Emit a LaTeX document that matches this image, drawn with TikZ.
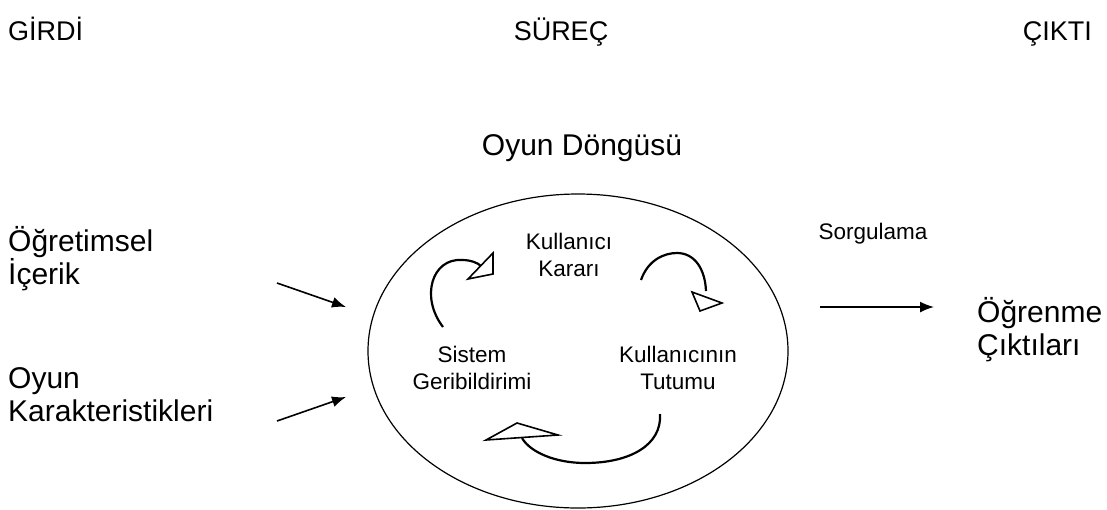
\documentclass[tikz,border=0pt]{standalone}
\usepackage{fontspec}
\setmainfont{Liberation Sans}
\usetikzlibrary{arrows.meta,positioning,shapes.geometric}
\tikzstyle{head}=[font=\fontsize{27}{30}\selectfont,inner sep=0pt]
\tikzstyle{bigtext}=[font=\fontsize{30}{33}\selectfont,inner sep=0pt,align=left]
\tikzstyle{smalltext}=[font=\fontsize{22.5}{27}\selectfont,inner sep=0pt,align=center]

\begin{document}
\begin{tikzpicture}[x=1pt,y=-1pt,
feed/.style={-{Latex[length=14pt,width=11pt]},line width=1.6pt},
turn/.style={line width=2.2pt},
turnhead/.style={draw,line width=1.6pt,fill=white,line join=miter}]
\useasboundingbox (0,0) rectangle (1107,509);
% headings
\node[head,anchor=base west] (girdi) at (8,40) {GİRDİ};
\node[head,anchor=base] (surec) at (561,40) {SÜREÇ};
\node[head,anchor=base east] (cikti) at (1092,40) {ÇIKTI};
\node[bigtext] (dongu) at (582,148) {Oyun Döngüsü};
% inputs
\node[bigtext,anchor=west] (icerik) at (8,259) {Öğretimsel\\İçerik};
\node[bigtext,anchor=west] (karakter) at (8,395) {Oyun\\Karakteristikleri};
\coordinate (in1) at (277,283);
\coordinate (in1end) at (346,307);
\coordinate (in2) at (277,421);
\coordinate (in2end) at (346,397);
\draw[feed] (in1) -- (in1end);
\draw[feed] (in2) -- (in2end);
% the loop
\node[draw,ellipse,line width=1.2pt,minimum width=420pt,minimum height=314pt] (oyun) at (578,351) {};
\node[smalltext] (karar) at (569,255) {Kullanıcı\\Kararı};
\node[smalltext] (geri) at (472,368) {Sistem\\Geribildirimi};
\node[smalltext] (tutum) at (678,368) {Kullanıcının\\Tutumu};
\draw[turn] (443,327) .. controls (420,297) and (432,258) .. (462,260)
  .. controls (471,260) and (478,263) .. (481,266);
\draw[turnhead] (468,279) -- (493,253) -- (493,274) -- cycle;
\draw[turn] (641,280) .. controls (648,260) and (664,253) .. (677,253)
  .. controls (694,253) and (705,268) .. (706,291);
\draw[turnhead] (692,292) -- (722,303) -- (700,311) -- cycle;
\draw[turn] (660,414) .. controls (662,445) and (630,463) .. (585,463)
  .. controls (555,463) and (530,452) .. (522,438);
\draw[turnhead] (486,440) -- (517,423) -- (558,435) -- cycle;
% output
\node[smalltext] (sorgu) at (873,234) {Sorgulama};
\node[bigtext,anchor=west] (ogrenme) at (977,330) {Öğrenme\\Çıktıları};
\coordinate (out) at (820,307);
\coordinate (outend) at (934,307);
\draw[feed] (out) -- (outend);
\end{tikzpicture}
\end{document}
